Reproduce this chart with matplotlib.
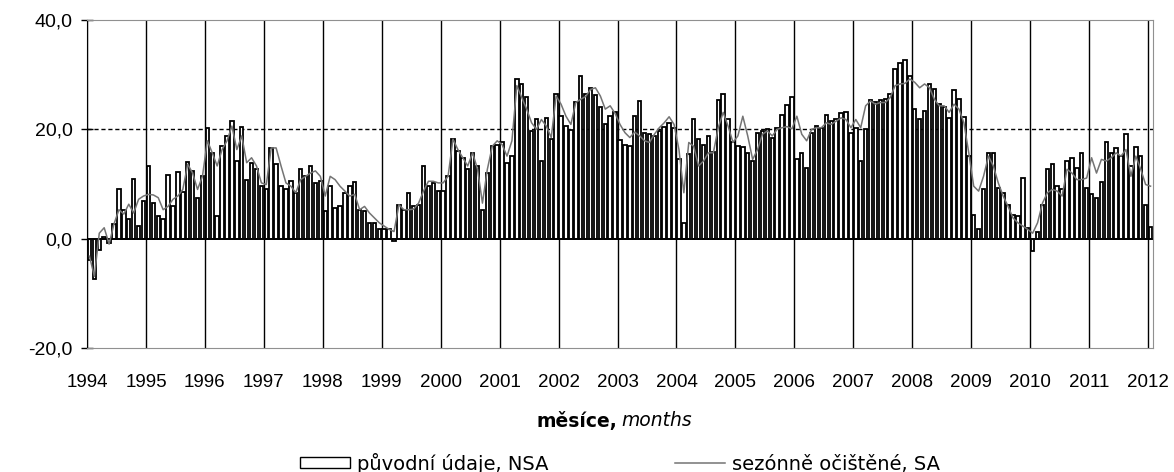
import matplotlib
matplotlib.use("Agg")
import matplotlib.pyplot as plt
import numpy as np

# měsíční hodnoty od 1994/01 do 2012/01
nsa = [
    # 1994
    -3.9, -7.4, -2.0, 0.3, -0.8, 2.7, 9.0, 5.3, 3.6, 11.0, 2.4, 6.9,
    # 1995
    13.3, 6.5, 4.2, 3.6, 11.6, 5.9, 12.2, 8.5, 14.0, 12.4, 7.5, 11.4,
    # 1996
    20.3, 15.7, 4.1, 16.9, 18.8, 21.5, 14.2, 20.5, 10.8, 13.9, 12.7, 9.6,
    # 1997
    9.0, 16.5, 13.6, 9.6, 9.0, 10.5, 8.4, 12.7, 11.4, 13.3, 10.2, 10.5,
    # 1998
    5.0, 9.7, 5.6, 5.9, 8.4, 9.7, 10.3, 5.3, 5.1, 2.9, 2.9, 1.7,
    # 1999
    1.8, 1.7, -0.5, 6.2, 5.3, 8.3, 5.9, 6.2, 13.3, 9.6, 10.2, 8.7,
    # 2000
    8.7, 11.4, 18.2, 16.0, 14.8, 12.7, 15.7, 13.3, 5.3, 12.0, 16.9, 17.2,
    # 2001
    17.6, 13.9, 15.1, 29.2, 28.3, 26.0, 19.7, 21.8, 14.2, 22.1, 18.2, 26.4,
    # 2002
    22.4, 20.6, 19.9, 25.0, 29.8, 26.4, 27.6, 26.2, 24.0, 20.9, 22.4, 23.1,
    # 2003
    18.0, 17.1, 16.9, 22.4, 25.2, 19.3, 19.1, 18.8, 19.7, 20.5, 21.2, 20.3,
    # 2004
    14.5, 2.9, 15.4, 21.8, 18.2, 17.1, 18.8, 15.8, 25.4, 26.4, 21.8, 17.6,
    # 2005
    16.9, 16.8, 15.7, 14.2, 19.3, 19.7, 20.0, 18.5, 20.3, 22.6, 24.4, 26.0,
    # 2006
    14.5, 15.6, 13.0, 19.3, 20.6, 20.3, 22.6, 21.5, 21.8, 22.9, 23.2, 19.3,
    # 2007
    20.3, 14.2, 20.0, 25.4, 25.0, 25.4, 25.6, 26.4, 31.0, 32.1, 32.7, 29.8,
    # 2008
    23.8, 21.8, 23.4, 28.3, 27.3, 24.6, 24.0, 22.1, 27.2, 25.6, 22.3, 15.1,
    # 2009
    4.4, 1.8, 9.0, 15.6, 15.6, 9.3, 8.4, 6.2, 4.4, 4.1, 11.1, 2.0,
    # 2010
    -2.3, 1.3, 6.2, 12.7, 13.6, 9.7, 9.0, 14.2, 14.8, 13.0, 15.7, 9.3,
    # 2011
    8.1, 7.5, 10.3, 17.7, 15.6, 16.6, 15.1, 19.1, 13.3, 16.8, 15.1, 6.2,
    # 2012
    2.1,
]

sa = [
    # 1994
    -3.2, -6.9, 1.0, 2.0, -1.0, 2.7, 5.3, 4.5, 6.3, 4.7, 7.2, 7.8,
    # 1995
    8.1, 8.0, 7.5, 5.3, 5.9, 7.2, 7.8, 9.0, 13.6, 12.0, 9.0, 11.4,
    # 1996
    17.9, 15.7, 13.3, 16.3, 17.9, 20.6, 16.3, 18.8, 13.9, 14.8, 13.3, 10.2,
    # 1997
    9.9, 16.6, 16.6, 13.3, 10.2, 9.6, 8.4, 10.8, 11.4, 12.0, 12.4, 11.4,
    # 1998
    7.8, 11.4, 10.8, 9.6, 8.7, 7.8, 8.1, 5.3, 5.9, 4.7, 3.8, 2.9,
    # 1999
    2.3, 1.7, 1.3, 6.2, 5.3, 5.3, 5.4, 6.5, 8.7, 10.5, 10.5, 10.2,
    # 2000
    10.2, 11.4, 18.2, 16.3, 14.8, 13.3, 15.7, 12.7, 6.5, 12.7, 16.9, 17.9,
    # 2001
    17.2, 15.1, 17.9, 28.0, 25.8, 23.7, 21.2, 20.0, 21.8, 20.6, 18.5, 26.1,
    # 2002
    24.6, 22.4, 20.9, 24.9, 25.5, 26.0, 27.3, 27.6, 26.1, 23.7, 24.3, 22.9,
    # 2003
    20.9, 19.4, 18.5, 19.5, 18.8, 17.9, 17.6, 19.1, 20.3, 21.2, 22.3, 20.9,
    # 2004
    16.3, 8.4, 17.6, 16.9, 13.3, 14.2, 15.7, 15.7, 20.3, 23.1, 20.6, 17.6,
    # 2005
    18.8, 22.4, 18.8, 14.5, 16.3, 19.1, 19.7, 18.8, 20.0, 20.3, 20.5, 20.1,
    # 2006
    22.4, 19.1, 17.9, 20.0, 20.3, 20.3, 21.2, 20.9, 21.5, 22.1, 21.8, 20.3,
    # 2007
    21.8, 20.3, 24.3, 25.2, 24.6, 24.9, 24.9, 25.8, 28.0, 28.3, 28.4, 29.2,
    # 2008
    28.6, 27.6, 28.3, 27.6, 25.5, 24.3, 24.3, 23.1, 24.6, 23.7, 21.2, 15.7,
    # 2009
    9.6, 8.7, 11.4, 15.1, 13.3, 10.2, 7.8, 5.9, 3.8, 2.9, 2.3, 1.7,
    # 2010
    1.0, 2.9, 6.5, 8.4, 9.0, 8.7, 7.8, 12.7, 12.0, 10.8, 10.8, 11.1,
    # 2011
    14.8, 12.0, 14.5, 14.2, 14.8, 15.7, 15.1, 16.3, 11.4, 15.1, 12.7, 9.9,
    # 2012
    9.6,
]

roky = [str(r) for r in range(1994, 2013)]
y_ticks = [-20, 0, 20, 40]

x = np.arange(len(nsa))

fig = plt.figure(figsize=(11.74, 4.72), dpi=100)
ax = fig.add_axes([87 / 1174, 1 - 348 / 472, (1153 - 87) / 1174, (348 - 20) / 472])

# mřížka: roky svisle, 20 % přerušovaně
hranice = [12 * i - 0.5 for i in range(len(roky))]
for h in hranice:
    ax.axvline(h, color="black", linewidth=1.0, zorder=0.5)
ax.axhline(20, color="black", linewidth=1.0, linestyle=(0, (3, 2)), zorder=0.5)

sloupce = ax.bar(x, nsa, width=0.7, color="white", edgecolor="black", linewidth=1.3,
                 zorder=2, label="původní údaje, NSA")
cara, = ax.plot(x, sa, color="#747474", linewidth=1.1, zorder=3,
                label="sezónně očištěné, SA")
ax.axhline(0, color="black", linewidth=1.2, zorder=2.5)

ax.set_xlim(-0.5, len(nsa) - 0.5)
ax.set_ylim(-20, 40)
ax.set_yticks(y_ticks)
ax.set_yticklabels([f"{v:.1f}".replace(".", ",") for v in y_ticks],
                   fontfamily="Liberation Sans", fontsize=14)
ax.set_xticks(hranice)
ax.set_xticklabels(roky, fontfamily="Liberation Sans", fontsize=13.5)
ax.tick_params(axis="x", length=0, pad=19)
ax.tick_params(axis="y", direction="inout", length=9, width=1.0, pad=6)

for s in ["top", "right", "bottom"]:
    ax.spines[s].set_color("#909090")
ax.spines["left"].set_color("black")

fig.text(617 / 1174, 1 - 421 / 472, "měsíce,", fontfamily="DejaVu Sans",
         fontweight="bold", fontsize=13.5, ha="right", va="center")
fig.text(621 / 1174, 1 - 421 / 472, "months", fontfamily="DejaVu Sans",
         fontstyle="italic", fontsize=13.5, ha="left", va="center")

leg = fig.legend([sloupce, cara], ["původní údaje, NSA", "sezónně očištěné, SA"],
                 loc="center", bbox_to_anchor=(620 / 1174, 1 - 463 / 472), ncol=2,
                 frameon=False, handlelength=2.6, handleheight=0.55, handletextpad=0.35,
                 columnspacing=6.5, prop={"family": "DejaVu Sans", "size": 14})
for p in leg.get_patches():
    p.set_linewidth(1.0)

fig.savefig("out.png", dpi=100)
